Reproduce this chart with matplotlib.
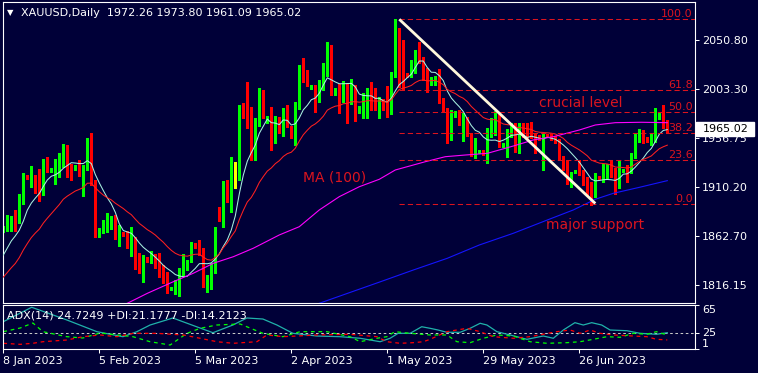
import numpy as np
import pandas as pd
import matplotlib
matplotlib.use('Agg')
import matplotlib.pyplot as plt
from matplotlib.patches import Rectangle
from matplotlib import transforms

### DATOS ###
#############
symbol_title = 'XAUUSD,Daily  1972.26 1973.80 1961.09 1965.02'
adx_title = 'ADX(14) 24.7249 +DI:21.1777 -DI:14.2123'
last_price = 1965.02

# closes before the first visible bar (only used to warm up the moving averages)
prior_closes = [1789, 1798, 1810, 1807, 1781, 1777, 1792, 1794, 1797, 1804,
                1798, 1806, 1812, 1818, 1824, 1839, 1855, 1853, 1833, 1865]

opens = [1867.8, 1869.4, 1870.9, 1878.6, 1877.6, 1898.1, 1920.4, 1917.8, 1918.2, 1909.5,
         1907.0, 1932.5, 1925.4, 1927.7, 1931.8, 1936.6, 1949.0, 1931.5, 1926.8, 1929.9,
         1922.3, 1927.7, 1953.8, 1916.5, 1862.3, 1866.2, 1868.7, 1871.9, 1876.7, 1863.0,
         1866.2, 1864.0, 1854.1, 1856.6, 1837.5, 1834.3, 1842.7, 1838.4, 1843.9, 1837.5,
         1827.4, 1824.1, 1812.7, 1813.0, 1817.1, 1825.7, 1836.9, 1838.4, 1855.4, 1853.5,
         1848.0, 1815.2, 1815.5, 1830.5, 1885.3, 1877.6, 1913.4, 1903.1, 1922.0, 1921.3,
         1988.2, 1977.0, 1977.7, 1943.6, 1970.7, 1992.3, 1971.3, 1977.0, 1957.9, 1973.2,
         1963.6, 1979.6, 1966.9, 1957.0, 1985.1, 2022.3, 2020.7, 2004.7, 2006.4, 1992.3,
         2005.1, 2018.5, 2039.8, 1998.7, 2004.2, 1993.7, 2006.4, 1993.7, 2006.4, 1981.8,
         1984.1, 1993.7, 2000.9, 1992.3, 1987.1, 1992.3, 1987.1, 1981.8, 2016.9, 2052.0,
         2050.3, 2017.8, 2015.9, 2020.0, 2037.6, 2031.9, 2016.9, 2008.3, 2009.5, 2015.2,
         1992.3, 1984.1, 1961.2, 1977.7, 1981.8, 1969.8, 1975.5, 1961.2, 1940.4, 1942.6,
         1944.2, 1941.4, 1959.5, 1966.9, 1977.0, 1948.4, 1949.0, 1961.8, 1964.3, 1944.5,
         1965.9, 1960.5, 1961.2, 1959.5, 1957.9, 1945.2, 1959.5, 1959.5, 1957.9, 1954.1,
         1938.8, 1935.0, 1914.9, 1925.1, 1934.0, 1923.5, 1917.2, 1911.8, 1908.6, 1919.7,
         1919.1, 1921.3, 1928.7, 1920.4, 1910.1, 1925.8, 1927.7, 1924.5, 1938.8, 1954.8,
         1961.8, 1956.4, 1953.1, 1955.4, 1975.5, 1978.6, 1972.26]

highs = [1872.6, 1883.1, 1882.1, 1887.9, 1903.1, 1923.5, 1921.3, 1929.9, 1921.3, 1926.8,
         1936.3, 1938.2, 1928.0, 1936.3, 1942.6, 1950.6, 1950.0, 1932.0, 1930.9, 1935.6,
         1930.9, 1957.0, 1961.2, 1917.0, 1870.4, 1878.3, 1885.3, 1882.1, 1883.1, 1873.5,
         1866.8, 1868.1, 1871.3, 1862.3, 1846.5, 1844.9, 1843.4, 1848.7, 1845.8, 1846.5,
         1835.3, 1828.9, 1814.6, 1821.0, 1832.1, 1845.8, 1840.1, 1857.6, 1856.3, 1859.2,
         1851.3, 1825.7, 1836.9, 1871.9, 1890.4, 1915.9, 1916.5, 1938.2, 1934.0, 1988.2,
         1989.8, 2010.5, 1986.0, 1975.5, 2004.2, 2002.5, 1977.7, 1986.0, 1977.7, 1977.0,
         1985.1, 1988.2, 1968.1, 1991.4, 2026.4, 2032.8, 2021.6, 2006.9, 2006.9, 2012.1,
         2028.1, 2048.7, 2045.5, 2004.4, 2008.3, 2011.5, 2009.5, 2012.8, 2006.9, 1987.1,
         2000.0, 2004.2, 2010.5, 2004.2, 1995.6, 1993.7, 2006.4, 2020.0, 2070.5, 2061.5,
         2050.8, 2018.8, 2031.2, 2040.8, 2048.7, 2034.4, 2023.3, 2015.0, 2015.8, 2022.3,
         1994.6, 1985.1, 1983.4, 1982.5, 1983.4, 1980.3, 1977.0, 1961.8, 1956.4, 1945.2,
         1945.2, 1965.9, 1975.5, 1982.8, 1980.3, 1951.9, 1965.0, 1970.7, 1970.7, 1970.7,
         1970.7, 1970.7, 1971.9, 1961.8, 1959.5, 1961.8, 1960.5, 1961.2, 1958.6, 1955.4,
         1939.5, 1935.6, 1924.5, 1926.1, 1935.6, 1926.1, 1919.1, 1914.9, 1922.9, 1920.4,
         1931.8, 1931.8, 1935.0, 1927.7, 1935.0, 1926.6, 1930.9, 1942.0, 1961.2, 1965.0,
         1964.3, 1957.6, 1961.2, 1985.1, 1980.6, 1988.2, 1973.80]

lows = [1866.8, 1868.1, 1868.1, 1868.1, 1875.7, 1893.3, 1917.2, 1909.5, 1904.4, 1896.5,
        1902.2, 1924.5, 1924.5, 1912.7, 1919.7, 1929.2, 1919.1, 1916.5, 1926.1, 1920.4,
        1901.2, 1926.1, 1911.8, 1862.3, 1862.0, 1865.9, 1867.1, 1869.4, 1859.9, 1853.5,
        1863.0, 1851.3, 1843.9, 1831.2, 1827.9, 1819.3, 1837.7, 1836.9, 1832.1, 1824.1,
        1818.4, 1808.8, 1811.4, 1807.6, 1805.7, 1824.8, 1830.5, 1837.9, 1852.0, 1844.9,
        1814.0, 1809.8, 1812.4, 1827.9, 1877.6, 1871.9, 1895.8, 1886.2, 1908.6, 1916.5,
        1975.5, 1966.2, 1935.6, 1935.6, 1968.1, 1975.5, 1970.7, 1945.2, 1951.6, 1961.2,
        1958.6, 1967.5, 1956.4, 1950.0, 1984.1, 2010.5, 2006.4, 2003.9, 1981.8, 1991.4,
        2002.5, 2015.9, 1997.8, 1997.8, 1980.3, 1991.4, 1970.7, 1989.2, 1973.2, 1981.0,
        1975.5, 1975.5, 1983.4, 1983.4, 1975.5, 1983.4, 1977.0, 1979.6, 2015.2, 2005.7,
        2002.5, 2015.0, 2015.4, 2018.5, 2028.1, 2012.1, 2000.9, 2007.3, 2007.3, 1989.8,
        1981.8, 1952.2, 1954.8, 1976.7, 1969.1, 1954.1, 1959.0, 1939.8, 1937.3, 1941.9,
        1940.4, 1933.1, 1957.9, 1959.5, 1947.8, 1947.6, 1938.8, 1957.9, 1943.6, 1942.6,
        1957.9, 1956.4, 1956.7, 1942.6, 1954.8, 1926.1, 1957.2, 1954.8, 1951.6, 1935.6,
        1926.1, 1912.7, 1910.1, 1923.2, 1921.3, 1911.8, 1902.2, 1892.6, 1900.6, 1917.5,
        1914.9, 1918.2, 1919.1, 1903.1, 1908.6, 1924.2, 1914.9, 1922.9, 1937.3, 1953.1,
        1951.6, 1952.4, 1950.0, 1953.1, 1974.8, 1965.9, 1961.09]

closes = [1870.9, 1871.9, 1878.3, 1877.6, 1899.0, 1921.3, 1917.5, 1918.7, 1909.2, 1907.0,
          1932.5, 1927.0, 1927.7, 1931.8, 1937.3, 1949.0, 1930.9, 1928.3, 1929.9, 1922.9,
          1927.7, 1954.1, 1914.9, 1865.6, 1866.8, 1869.7, 1874.5, 1876.7, 1863.0, 1866.2,
          1863.7, 1854.4, 1856.6, 1836.2, 1834.3, 1843.2, 1838.4, 1843.2, 1836.2, 1824.8,
          1823.5, 1811.4, 1813.3, 1818.4, 1827.4, 1837.9, 1839.4, 1856.0, 1852.8, 1847.0,
          1814.6, 1816.8, 1833.7, 1868.7, 1878.3, 1912.7, 1903.1, 1922.3, 1922.0, 1985.6,
          1976.5, 1975.5, 1943.6, 1971.3, 1992.3, 1976.5, 1977.0, 1957.9, 1973.2, 1963.6,
          1979.6, 1968.1, 1957.0, 1985.1, 2022.3, 2020.0, 2007.3, 2006.4, 1992.3, 2005.1,
          2019.1, 2040.8, 2007.3, 2003.5, 1993.7, 2006.4, 1993.7, 2006.4, 1992.3, 1986.0,
          1996.8, 2000.9, 1993.0, 1987.1, 1994.6, 1986.5, 1981.8, 2016.9, 2052.0, 2049.7,
          2016.9, 2015.9, 2021.6, 2037.6, 2031.2, 2016.9, 2002.5, 2013.7, 2015.2, 1991.4,
          1983.4, 1958.6, 1977.7, 1981.8, 1970.7, 1976.5, 1959.5, 1940.4, 1946.8, 1944.5,
          1941.4, 1959.5, 1967.5, 1977.7, 1948.4, 1950.9, 1962.7, 1965.0, 1945.2, 1965.9,
          1960.5, 1958.6, 1957.9, 1943.6, 1955.4, 1959.5, 1957.9, 1957.9, 1953.1, 1938.8,
          1934.0, 1914.9, 1922.3, 1925.6, 1922.9, 1914.9, 1910.1, 1894.3, 1920.4, 1918.2,
          1927.7, 1927.7, 1920.4, 1910.1, 1926.1, 1926.3, 1922.9, 1938.8, 1958.6, 1961.8,
          1954.8, 1953.1, 1957.0, 1978.6, 1979.6, 1967.5, 1965.02]

# MA(100) and MA(200) (bar index, price)
ma100_bars = [28, 31, 36, 42.5, 47.5, 52.5, 57.5, 62.5, 69, 74, 79, 84, 89, 94, 98,
              105.5, 110.5, 115.5, 121, 127.5, 132.5, 137.5, 144, 148, 153, 159.5, 166]
ma100_vals = [1794.0, 1798.7, 1808.2, 1819.3, 1827.4, 1836.9, 1843.2, 1851.3, 1864.0, 1871.9,
              1887.9, 1900.6, 1910.1, 1917.2, 1926.1, 1934.0, 1938.8, 1940.4, 1942.0, 1949.0,
              1954.8, 1957.9, 1964.3, 1969.1, 1971.3, 1971.7, 1971.3]
ma200_bars = [77, 79, 94, 102.5, 111, 119, 127.5, 136, 142.5, 148, 152.5, 159, 166]
ma200_vals = [1795.8, 1798.7, 1818.9, 1830.5, 1841.7, 1854.4, 1865.6, 1878.3, 1887.9,
              1898.1, 1903.8, 1909.5, 1915.9]

# ADX(14) panel (bar index, value)
adx_bars = [0, 7.1, 15.9, 23.4, 29.9, 33.4, 36.7, 42.4, 44.2, 49.2, 52.4, 57.4, 60.9, 64.9,
            68.4, 72.4, 78.4, 84.2, 89.2, 94.2, 96.7, 98.7, 101.7, 104.6, 106.7, 108.7, 110.9,
            114.2, 116.7, 119.2, 120.9, 123.4, 126.7, 130.9, 135, 137.5, 140, 142.9, 145,
            147.1, 149.6, 151.7, 155.9, 159.2, 163.3, 166]
adx_vals = [40.7, 61.7, 43.2, 26.2, 18.9, 26.2, 35.9, 46.1, 42.2, 31.5, 24.7, 35.9, 46.1, 44.6,
            35.9, 23.8, 19.9, 18.9, 16.6, 11.6, 16.6, 23.8, 23.8, 33.4, 31.1, 28.6, 25.3,
            25.3, 31.1, 38.4, 35.9, 26.2, 21.4, 15.1, 19.9, 16.6, 28.6, 39.3, 35.9,
            39.3, 35.9, 28.6, 27.6, 23.8, 22.4, 24.7]
pdi_bars = [0, 4.2, 7.4, 9.9, 15.9, 19.9, 24.2, 32.4, 36.7, 41.7, 45.9, 49.2, 53.4, 59.2,
            64.9, 69.9, 74.2, 80.9, 86.7, 89.2, 93.4, 95.9, 97.9, 101.7, 106.7, 110.9, 113.4,
            116.7, 120, 123.4, 127.5, 131.7, 135.9, 140.9, 144.2, 147.5, 150.9, 154.2, 157.5,
            160.9, 163.3, 166]
pdi_vals = [26.2, 31.5, 38.8, 26.2, 18.9, 17.0, 24.3, 18.9, 11.6, 6.8, 23.8, 31.1, 35.9, 37.4,
            23.8, 18.9, 26.2, 26.2, 18.9, 11.6, 16.6, 18.9, 26.2, 23.8, 21.4, 21.4, 11.6,
            10.2, 16.6, 21.4, 19.9, 11.6, 9.3, 10.2, 11.6, 15.1, 18.9, 18.0, 23.8,
            22.4, 26.2, 21.2]
mdi_bars = [0, 4.2, 7.4, 9.9, 15.9, 19.9, 24.2, 28.4, 32.5, 38.3, 45, 49.2, 53.4, 57.5,
            63.4, 65.9, 70, 78.4, 86.7, 93.4, 95.9, 99.2, 102.5, 105, 106.7, 110.9, 115.9,
            119.2, 122.5, 127.5, 131.7, 138.4, 141.7, 144.2, 146.7, 149.2, 152.5, 157.5,
            160.9, 163.3, 166]
mdi_vals = [9.3, 7.8, 9.3, 11.6, 14.1, 18.9, 21.4, 18.9, 23.8, 23.8, 21.4, 16.6, 11.6, 9.3,
            11.6, 21.4, 18.9, 21.4, 22.4, 18.9, 11.6, 9.3, 10.2, 11.6, 15.1, 26.2, 31.1,
            26.2, 18.9, 16.6, 18.9, 26.2, 28.6, 23.8, 28.6, 23.8, 21.4, 19.9,
            18.9, 15.1, 14.2]
adx_level = 25

# fibonacci / trend line anchors (bar index, price)
fib_start_bar, fib_high = 99, 2070.1
fib_end_bar, fib_low = 148, 1893.6
fib_ratios = [0.0, 0.236, 0.382, 0.5, 0.618, 1.0]
fib_labels = ['0.0', '23.6', '38.2', '50.0', '61.8', '100.0']

price_ticks = [2050.80, 2003.30, 1956.75, 1910.20, 1862.70, 1816.15]
date_ticks = [0, 24, 48, 72, 96, 120, 144]
date_labels = ['8 Jan 2023', '5 Feb 2023', '5 Mar 2023', '2 Apr 2023',
               '1 May 2023', '29 May 2023', '26 Jun 2023']
adx_ticks = [1, 25, 65]

### ESTILO ###
##############
BG = '#000038'
GREEN = '#00ff00'
RED = '#ff0000'
TXT_RED = '#dc141e'
W, H = 758, 373


def px_box(x0, y0, x1, y1):
    return [x0 / W, 1 - y1 / H, (x1 - x0) / W, (y1 - y0) / H]


fig = plt.figure(figsize=(W / 100, H / 100), dpi=100, facecolor=BG)
ax = fig.add_axes(px_box(3, 2, 695, 303))
ax2 = fig.add_axes(px_box(3, 305, 695, 349), sharex=ax)

for a in (ax, ax2):
    a.set_facecolor(BG)
    for s in a.spines.values():
        s.set_color('white')
        s.set_linewidth(0.8)

ax.set_xlim(-0.075, 172.925)
ax.set_ylim(1798.97, 2086.64)

### VELAS ###
#############
o = np.array(opens)
h = np.array(highs)
l = np.array(lows)
c = np.array(closes)
idx = np.arange(len(c))
colors = np.where(c > o, GREEN, np.where(c < o, RED, '#ffff00'))

ax.vlines(idx, l, h, colors=colors, lw=0.75, antialiased=False, zorder=2)
body_lo = np.minimum(o, c)
body_h = np.maximum(np.abs(c - o), 0.9)
ax.bar(idx, body_h, width=0.75, bottom=body_lo, color=colors, linewidth=0,
       antialiased=False, zorder=2)

# MEDIAS
all_c = pd.Series(np.concatenate([prior_closes, c]))
ma_fast = all_c.rolling(8).mean().to_numpy()[len(prior_closes):]
ma_slow = all_c.ewm(span=21, adjust=False).mean().to_numpy()[len(prior_closes):]
ax.plot(idx, ma_fast, c='#a8f0e0', lw=0.75, zorder=3)
ax.plot(idx, ma_slow, c='#ff2020', lw=0.75, zorder=3)
ax.plot(ma100_bars, ma100_vals, c='#ff00ff', lw=0.8, zorder=3)
ax.plot(ma200_bars, ma200_vals, c='#1414ff', lw=0.8, zorder=3)

# FIBO + TENDENCIA
x_right = ax.get_xlim()[1]
for r, lab in zip(fib_ratios, fib_labels):
    lvl = fib_low + r * (fib_high - fib_low)
    ax.hlines(lvl, fib_start_bar, x_right, colors=TXT_RED, lw=0.75, linestyles=(0, (5, 3)), zorder=4)
    ax.text(x_right - 0.6, lvl + 2.0, lab, color=TXT_RED, fontsize=8, ha='right', va='baseline', zorder=5)

ax.plot([fib_start_bar, fib_end_bar], [fib_high, fib_low + 0.5], c='#fff8dc', lw=2.0,
        solid_capstyle='butt', zorder=5)

ax.text(133.9, 1986.3, 'crucial level', color=TXT_RED, fontsize=10, va='baseline', zorder=6)
ax.text(74.9, 1915.1, 'MA (100)', color=TXT_RED, fontsize=10, va='baseline', zorder=6)
ax.text(135.6, 1869.7, 'major support', color=TXT_RED, fontsize=10, va='baseline', zorder=6)

ax.text(0.0105, 0.964, '\u25bc', color='white', fontsize=6, transform=ax.transAxes,
        ha='center', va='center')
ax.text(0.0256, 0.964, symbol_title, color='white', fontsize=8, transform=ax.transAxes,
        ha='left', va='center')

# EJES
ax.yaxis.tick_right()
ax.set_yticks(price_ticks)
ax.set_yticklabels(['%.2f' % p for p in price_ticks])
ax.tick_params(axis='y', colors='white', length=3, width=0.75, pad=2, labelsize=8)
ax.tick_params(axis='x', bottom=False, labelbottom=False)

# precio actual
blend = transforms.blended_transform_factory(ax.transAxes, ax.transData)
ax.add_patch(Rectangle((1.0015, last_price - 6.8), 0.084, 13.4, transform=blend,
                       facecolor='white', edgecolor='white', clip_on=False, zorder=10))
ax.text(1.0115, last_price, '%.2f' % last_price, transform=blend, color='black',
        fontsize=8, ha='left', va='center', zorder=11, clip_on=False)

### ADX ###
###########
ax2.set_ylim(1, 65)
ax2.axhline(adx_level, color='#c8c8c8', lw=0.75, ls=(0, (2.5, 2.5)))
ax2.plot(adx_bars, adx_vals, c='#20b2aa', lw=0.9)
ax2.plot(pdi_bars, pdi_vals, c=GREEN, lw=0.9, ls=(0, (3, 3)))
ax2.plot(mdi_bars, mdi_vals, c=RED, lw=0.9, ls=(0, (3, 3)))
ax2.text(0.0062, 0.75, adx_title, color='white', fontsize=8, transform=ax2.transAxes,
         ha='left', va='center')

ax2.yaxis.tick_right()
ax2.set_yticks(adx_ticks)
ax2.set_yticklabels([str(t) for t in adx_ticks])
ax2.tick_params(axis='y', colors='white', length=3, width=0.75, pad=2, labelsize=8)
ylabs = ax2.get_yticklabels()
ylabs[0].set_va('bottom')
ylabs[-1].set_va('top')

ax2.set_xticks(date_ticks)
ax2.set_xticklabels(date_labels, ha='left')
ax2.tick_params(axis='x', colors='white', length=3, width=0.75, pad=2, labelsize=8)

fig.savefig('out.png', dpi=100, facecolor=BG)
